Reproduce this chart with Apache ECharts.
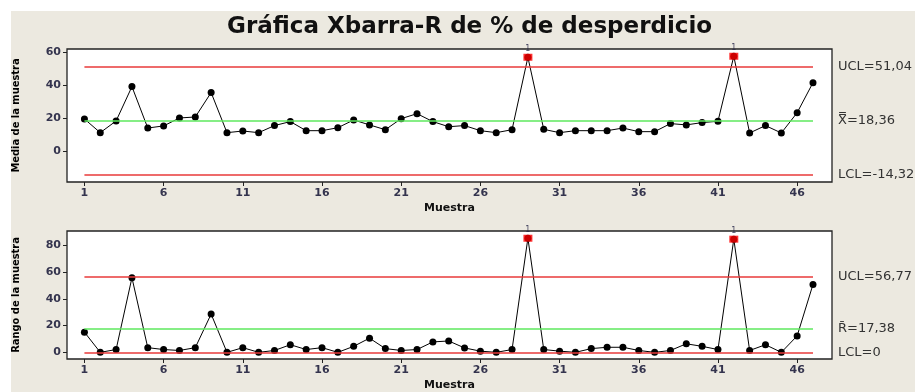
<!DOCTYPE html>
<html>
<head>
<meta charset="utf-8">
<script src="https://cdn.jsdelivr.net/npm/echarts@6/dist/echarts.min.js"></script>
<style>
  html, body { margin: 0; padding: 0; background: #fff; }
  #main { width: 915px; height: 392px; }
</style>
</head>
<body>
<div id="main"></div>
<script>
// muestras 1..47
var muestras = [];
for (var i = 1; i <= 47; i++) muestras.push(i);

var medias = [19.4, 11.1, 18.2, 39.0, 13.9, 15.2, 20.0, 20.6, 35.4, 11.1,
              12.1, 11.1, 15.4, 17.8, 12.3, 12.3, 14.1, 18.8, 15.8, 12.9,
              19.6, 22.6, 17.8, 14.7, 15.4, 12.3, 11.1, 12.9, 56.8, 13.1,
              11.1, 12.3, 12.3, 12.3, 13.9, 11.7, 11.7, 16.6, 15.8, 17.2,
              18.0, 57.4, 10.9, 15.4, 10.9, 23.2, 41.4];

var rangos = [15.1, 0, 2.1, 55.7, 3.5, 2.1, 1.4, 3.5, 28.6, 0,
              3.5, 0, 1.4, 5.7, 2.1, 3.5, 0, 4.5, 10.6, 2.8,
              1.4, 2.1, 7.8, 8.5, 3.3, 0.9, 0, 2.1, 85.2, 2.1,
              0.9, 0, 2.8, 3.8, 3.8, 1.4, 0, 1.4, 6.4, 4.5,
              2.1, 84.5, 1.4, 5.7, 0, 12.3, 50.7];

var limitesX = { ucl: 51.04, cl: 18.36, lcl: -14.32 };
var limitesR = { ucl: 56.77, cl: 17.38, lcl: 0 };

var ticksX = [1, 6, 11, 16, 21, 26, 31, 36, 41, 46];
var ticksMedia = [0, 20, 40, 60];
var ticksRango = [0, 20, 40, 60, 80];

var chart = echarts.init(document.getElementById('main'));

function puntos(valores) {
    return valores.map(function (v, i) { return [muestras[i], v]; });
}
function fuera(valores, ucl) {
    var out = [];
    valores.forEach(function (v, i) { if (v > ucl) out.push([muestras[i], v]); });
    return out;
}
function coma(v) {
    return v === 0 ? '0' : v.toFixed(2).replace('.', ',');
}
function linea(y, color, texto) {
    return [
        { coord: [muestras[0], y], lineStyle: { color: color, width: 1.5, type: 'solid' },
          label: { show: true, position: 'end', distance: 25, formatter: texto,
                   color: '#333', fontSize: 13, fontFamily: 'DejaVu Sans' } },
        { coord: [muestras[muestras.length - 1], y] }
    ];
}

var ejeLabel = { color: '#34344e', fontSize: 11, fontWeight: 'bold', fontFamily: 'DejaVu Sans' };

function xAxis(grid) {
    return {
        type: 'value', gridIndex: grid, min: -0.1, max: 48.2,
        name: 'Muestra', nameLocation: 'middle', nameGap: 21,
        nameTextStyle: { color: '#111', fontSize: 11, fontWeight: 'bold', fontFamily: 'DejaVu Sans' },
        axisLine: { show: false, onZero: false },
        splitLine: { show: false },
        axisTick: { show: true, length: 4, customValues: ticksX, lineStyle: { color: '#222' } },
        axisLabel: Object.assign({ customValues: ticksX, margin: 6 }, ejeLabel)
    };
}
function yAxis(grid, min, max, ticks, nombre) {
    return {
        type: 'value', gridIndex: grid, min: min, max: max,
        name: nombre, nameLocation: 'middle', nameGap: 45, nameRotate: 90,
        nameTextStyle: { color: '#000', fontSize: 11, fontWeight: 'bold', fontFamily: 'DejaVu Sans Condensed' },
        axisLine: { show: false, onZero: false },
        splitLine: { show: false },
        axisTick: { show: true, length: 4, customValues: ticks, lineStyle: { color: '#222' } },
        axisLabel: Object.assign({ customValues: ticks, margin: 6 }, ejeLabel)
    };
}

function serie(grid, valores, lim) {
    return {
        type: 'line', xAxisIndex: grid, yAxisIndex: grid,
        data: puntos(valores),
        symbol: 'circle', symbolSize: 7,
        itemStyle: { color: '#000' },
        lineStyle: { color: '#000', width: 1 },
        animation: false,
        markLine: {
            silent: true, symbol: 'none', animation: false,
            data: [
                linea(lim.ucl, '#e83a3a', 'UCL=' + coma(lim.ucl)),
                linea(lim.cl, '#5ee85e', (grid === 0 ? 'X\u033F' : 'R\u0304') + '=' + coma(lim.cl)),
                linea(lim.lcl, '#e83a3a', 'LCL=' + coma(lim.lcl))
            ]
        }
    };
}
function rojos(grid, valores, lim) {
    return {
        type: 'scatter', xAxisIndex: grid, yAxisIndex: grid,
        data: fuera(valores, lim.ucl),
        symbol: 'rect', symbolSize: [9, 7],
        itemStyle: { color: '#ff0000' },
        label: { show: true, position: 'top', distance: 1, formatter: '1',
                 fontSize: 8, color: '#224', fontFamily: 'DejaVu Sans' },
        animation: false, z: 5
    };
}

var option = {
    backgroundColor: '#ffffff',
    graphic: [{
        type: 'rect', left: 11, top: 11, z: -10,
        shape: { width: 904, height: 381 },
        style: { fill: '#ece9e0' }
    }],
    title: {
        text: 'Gráfica Xbarra-R de % de desperdicio',
        left: 222, top: 11,
        textStyle: { fontSize: 23, fontWeight: 'bold', color: '#111', fontFamily: 'DejaVu Sans' }
    },
    grid: [
        { left: 67, right: 83, top: 49, height: 133, show: true, backgroundColor: '#fff',
          borderColor: '#222', borderWidth: 1.3 },
        { left: 67, right: 83, top: 231, height: 135, show: true, backgroundColor: '#fff',
          borderColor: '#222', borderWidth: 1.3 }
    ],
    xAxis: [xAxis(0), xAxis(1)],
    yAxis: [
        yAxis(0, -18.8, 61.8, ticksMedia, 'Media de la muestra'),
        yAxis(1, -4.96, 90.6, ticksRango, 'Rango de la muestra')
    ],
    series: [
        serie(0, medias, limitesX),
        rojos(0, medias, limitesX),
        serie(1, rangos, limitesR),
        rojos(1, rangos, limitesR)
    ]
};

chart.setOption(option);
</script>
</body>
</html>
